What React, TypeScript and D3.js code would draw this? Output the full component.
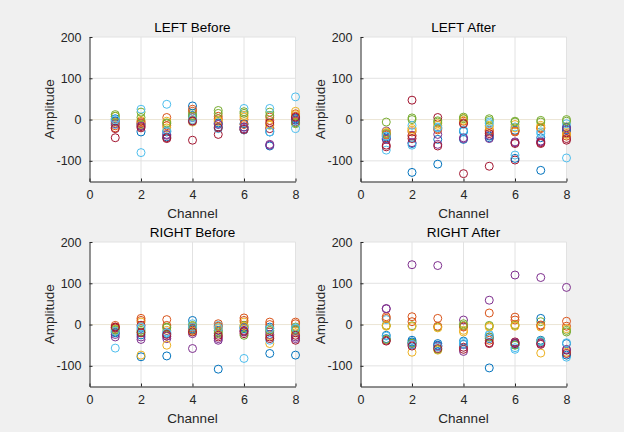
import React, { useRef, useEffect } from "react";
import * as d3 from "d3";

// MATLAB default colour order
const colorOrder = ["#0072BD", "#D95319", "#EDB120", "#7E2F8E", "#77AC30", "#4DBEEE", "#A2142F"];

const channels = [1, 2, 3, 4, 5, 6, 7, 8];
const xTicks = [0, 2, 4, 6, 8];
const yTicks = [-100, 0, 100, 200];

// one row per series, one value per channel
const leftBefore = [
  [2, -30, -30, 10, -18, -18, -64, -1],
  [-20, -5, 5, 20, 8, 0, 6, 14],
  [8, -2, -4, -6, -2, 6, -12, 20],
  [-5, -10, -38, 5, -10, -18, -60, 4],
  [12, 18, -10, 15, 22, 19, 18, -10],
  [-12, 25, 37, 5, -10, 27, 27, 55],
  [-44, -17, -46, -50, -36, -25, -22, -6],
  [-3, -12, -42, 33, -8, -10, -30, 2],
  [-15, -8, -15, 25, 2, -12, -2, 8],
  [-8, -12, -20, -2, -5, 10, -14, 12],
  [-10, -15, -36, -4, -12, -22, -62, -2],
  [8, 5, -8, 8, 15, 15, 10, -8],
  [0, -80, -28, 0, -22, -25, -30, -22],
  [-22, -20, -44, -3, -20, -24, -8, 6],
];

const leftAfter = [
  [-42, -58, -48, -48, -40, -26, -44, -18],
  [-38, -30, -25, -4, -26, -30, -22, -34],
  [-32, -22, -10, 3, -14, -12, -14, -30],
  [-28, -38, -36, -46, -38, -54, -54, -26],
  [-6, 4, -3, 6, 2, -6, -6, 0],
  [-74, -14, -18, -30, -6, -18, -30, -10],
  [-66, 47, 5, -131, -113, -98, -58, -50],
  [-46, -128, -108, -28, -44, -94, -123, -24],
  [-36, -40, -22, -8, -30, -28, -20, -40],
  [-30, -26, -14, -2, -18, -20, -18, -36],
  [-48, -56, -60, -44, -46, -56, -52, -20],
  [-34, 0, -6, 2, -2, -4, -2, -4],
  [-40, -62, -20, -26, -10, -86, -34, -93],
  [-62, -46, -64, -10, -34, -58, -56, -46],
];

const rightBefore = [
  [-18, -25, -22, 10, -14, -10, -6, -14],
  [-2, 15, 12, -6, 2, 16, 6, 6],
  [-10, 6, -14, -4, -6, 6, -46, -20],
  [-30, -36, -34, -22, -38, -14, -18, -30],
  [-14, -18, -6, -12, -22, -2, -10, -6],
  [-57, -10, -18, 2, -2, -8, -38, -10],
  [-8, -2, -28, -14, -30, -22, -30, -38],
  [-20, -78, -76, -10, -108, -6, -70, -74],
  [-6, 10, -2, -8, -4, 10, 0, 2],
  [-16, -74, -50, -16, -10, -4, -26, -16],
  [-24, -30, -28, -58, -34, -18, -24, -34],
  [-12, -14, -8, -2, -18, -26, -14, -12],
  [-16, -6, -20, -6, -8, -82, -10, -8],
  [-6, -20, -24, -18, -26, -16, -34, -26],
];

const rightAfter = [
  [-34, -38, -46, -40, -34, -49, -38, -46],
  [19, 19, 15, -6, 28, 11, -3, 8],
  [-4, -67, -62, -18, -4, 0, -69, -67],
  [39, 145, 143, 11, 59, 120, 114, 90],
  [-2, -3, -6, 2, -2, -2, 7, -18],
  [12, -44, -50, -42, -24, -60, -42, -79],
  [-38, -46, -54, -55, -46, -42, -44, -62],
  [-26, -42, -50, -48, -105, -46, 15, -74],
  [15, 7, -4, -4, -38, 18, -1, -4],
  [-2, -5, -8, -14, -6, -4, -6, -10],
  [38, -49, -52, -65, -30, -44, -46, -60],
  [-36, -45, -60, -2, -30, -50, -40, -14],
  [-28, -48, -54, -46, -26, -56, -40, -44],
  [-40, -52, -58, -60, -44, -46, -48, -70],
];

const panels = [
  { title: "LEFT Before", data: leftBefore, left: 89.5, top: 37 },
  { title: "LEFT After", data: leftAfter, left: 360.5, top: 37 },
  { title: "RIGHT Before", data: rightBefore, left: 89.5, top: 242 },
  { title: "RIGHT After", data: rightAfter, left: 360.5, top: 242 },
];

const App = () => {
  const svgRef = useRef<SVGSVGElement>(null);

  const width = 206;
  const height = 144.5;
  const font = "Arial, 'Liberation Sans', Helvetica, sans-serif";

  useEffect(() => {
    const svg = d3.select(svgRef.current);
    svg.selectAll("*").remove();

    svg.append("rect").attr("width", 624).attr("height", 432).attr("fill", "#f0f0f0");

    const x = d3.scaleLinear().domain([0, 8]).range([0, width]);
    const y = d3.scaleLinear().domain([-150, 200]).range([height, 0]);

    panels.forEach((p) => {
      const g = svg.append("g").attr("transform", `translate(${p.left},${p.top})`);

      g.append("rect").attr("width", width).attr("height", height).attr("fill", "#ffffff");

      // grid
      g.selectAll(".vgrid")
        .data(xTicks.filter((t) => t > 0))
        .enter()
        .append("line")
        .attr("x1", (d) => x(d))
        .attr("x2", (d) => x(d))
        .attr("y1", 0)
        .attr("y2", height)
        .attr("stroke", "#e2e2e2")
        .attr("stroke-width", 1);

      g.selectAll(".hgrid")
        .data(yTicks)
        .enter()
        .append("line")
        .attr("x1", 0)
        .attr("x2", width)
        .attr("y1", (d) => y(d))
        .attr("y2", (d) => y(d))
        .attr("stroke", (d) => (d === 0 ? "#ebe5d5" : "#e2e2e2"))
        .attr("stroke-width", 1);

      // points
      p.data.forEach((series, i) => {
        g.append("g")
          .selectAll("circle")
          .data(series)
          .enter()
          .append("circle")
          .attr("cx", (d, j) => x(channels[j]))
          .attr("cy", (d) => y(d))
          .attr("r", 4)
          .attr("fill", "none")
          .attr("stroke", colorOrder[i % colorOrder.length])
          .attr("stroke-width", 1);
      });

      // axes (box off, inward ticks)
      const xAxis = g.append("g").attr("transform", `translate(0,${height})`)
        .call(d3.axisBottom(x).tickValues(xTicks).tickFormat((d) => String(d)).tickSizeInner(-3).tickSizeOuter(0).tickPadding(9));
      const yAxis = g.append("g")
        .call(d3.axisLeft(y).tickValues(yTicks).tickFormat((d) => String(d)).tickSizeInner(-3).tickSizeOuter(0).tickPadding(8));

      [xAxis, yAxis].forEach((a) => {
        a.select(".domain").attr("stroke", "#262626").attr("stroke-width", 1);
        a.selectAll(".tick line").attr("stroke", "#262626");
        a.selectAll(".tick text")
          .attr("fill", "#262626")
          .style("font-family", font)
          .style("font-size", "12.5px");
      });

      g.append("text")
        .attr("x", width / 2)
        .attr("y", -5)
        .attr("text-anchor", "middle")
        .attr("fill", "#000")
        .style("font-family", font)
        .style("font-size", "13.5px")
        .text(p.title);

      g.append("text")
        .attr("x", width / 2)
        .attr("y", height + 36)
        .attr("text-anchor", "middle")
        .attr("fill", "#262626")
        .style("font-family", font)
        .style("font-size", "13.5px")
        .text("Channel");

      g.append("text")
        .attr("transform", `translate(-36,${height / 2}) rotate(-90)`)
        .attr("text-anchor", "middle")
        .attr("fill", "#262626")
        .style("font-family", font)
        .style("font-size", "13.5px")
        .text("Amplitude");
    });
  }, []);

  return (
    <svg ref={svgRef} width={624} height={432} style={{ position: "absolute", left: 0, top: 0 }}></svg>
  );
};

export default App;
